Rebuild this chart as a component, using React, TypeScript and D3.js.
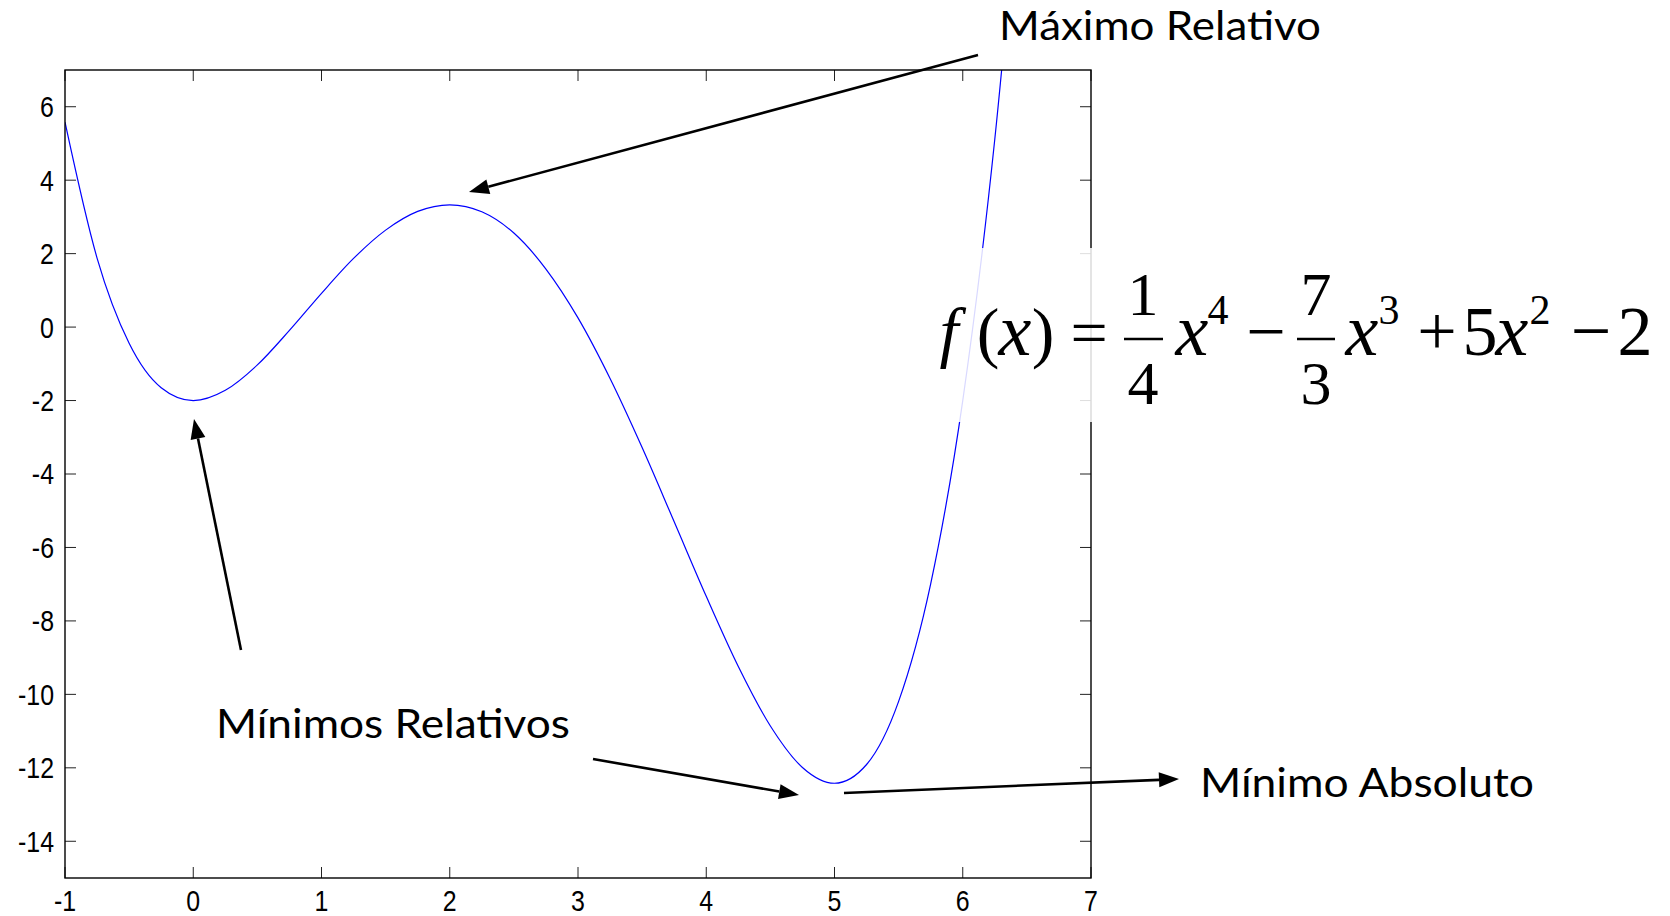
import React from "react";
import * as d3 from "d3";

// Sampled values of f(x) = 1/4 x^4 - 7/3 x^3 + 5x^2 - 2
const sampleX = [
  -1, -0.75, -0.5, -0.25, 0, 0.25, 0.5, 0.75, 1, 1.25, 1.5, 1.75, 2, 2.25, 2.5,
  2.75, 3, 3.25, 3.5, 3.75, 4, 4.25, 4.5, 4.75, 5, 5.25, 5.5, 5.75, 6, 6.25, 6.5,
];
const sampleY = [
  5.58, 1.88, -0.44, -1.65, -2.0, -1.72, -1.03, -0.09, 0.92, 1.87, 2.64, 3.15,
  3.33, 3.14, 2.56, 1.58, 0.25, -1.4, -3.28, -5.3, -7.33, -9.24, -10.86, -11.99,
  -12.42, -11.91, -10.19, -6.99, -2.0, 5.12, 14.72,
];

const xTicks = [-1, 0, 1, 2, 3, 4, 5, 6, 7];
const yTicks = [-14, -12, -10, -8, -6, -4, -2, 0, 2, 4, 6];
const xDomain: [number, number] = [-1, 7];
const yDomain: [number, number] = [-15, 7];

const W = 1670;
const H = 916;
const plot = { left: 65, right: 1091, top: 70, bottom: 878 };

const TICK = 11;
const tickFont = "'Liberation Sans', Arial, Helvetica, sans-serif";
const noteFont = "Lato, 'Open Sans', sans-serif";
const mathFont = "'Liberation Serif', 'Times New Roman', serif";

function Arrow({ x1, y1, x2, y2 }: { x1: number; y1: number; x2: number; y2: number }) {
  const ang = Math.atan2(y2 - y1, x2 - x1);
  const len = 20;
  const half = 7.5;
  const bx = x2 - len * Math.cos(ang);
  const by = y2 - len * Math.sin(ang);
  const px = -Math.sin(ang) * half;
  const py = Math.cos(ang) * half;
  return (
    <g>
      <line x1={x1} y1={y1} x2={bx} y2={by} stroke="#000" strokeWidth={2.6} />
      <polygon points={`${x2},${y2} ${bx + px},${by + py} ${bx - px},${by - py}`} fill="#000" />
    </g>
  );
}

// Tick label: slightly condensed sans, anchored at (tx, ty)
function TickLabel({ tx, ty, anchor, text, dy }: { tx: number; ty: number; anchor: string; text: string; dy?: string }) {
  return (
    <text
      transform={`translate(${tx},${ty}) scale(0.86,1)`}
      dy={dy}
      fontSize={29}
      textAnchor={anchor}
      fontFamily={tickFont}
    >
      {text}
    </text>
  );
}

export default function App() {
  const x = d3.scaleLinear().domain(xDomain).range([plot.left, plot.right]);
  const y = d3.scaleLinear().domain(yDomain).range([plot.bottom, plot.top]);

  const pts: [number, number][] = sampleX.map((v, i) => [v, sampleY[i]]);
  const line = d3
    .line<[number, number]>()
    .x((d) => x(d[0]))
    .y((d) => y(d[1]))
    .curve(d3.curveMonotoneX);

  const mainBase = 355;
  const barY = 339;
  const numBase = 315;
  const denBase = 404;
  const supBase = 324;

  const glyph = (cx: number, t: string, base: number, size: number) => (
    <text x={cx} y={base} fontSize={size} textAnchor="middle" fontFamily={mathFont}>
      {t}
    </text>
  );
  const varX = (cx: number) => (
    <text x={cx} y={mainBase} fontSize={74} fontStyle="italic" textAnchor="middle" fontFamily={mathFont}>
      x
    </text>
  );
  const sup = (cx: number, t: string) => glyph(cx, t, supBase, 42);

  return (
    <svg width={W} height={H} style={{ position: "absolute", left: 0, top: 0, background: "#fff" }}>
      <defs>
        <clipPath id="plotClip">
          <rect x={plot.left} y={plot.top} width={plot.right - plot.left} height={plot.bottom - plot.top} />
        </clipPath>
      </defs>
      <rect x={0} y={0} width={W} height={H} fill="#fff" />

      {/* curve */}
      <path d={line(pts) || ""} fill="none" stroke="#0000ff" strokeWidth={1.2} clipPath="url(#plotClip)" />

      {/* ticks on all four sides, pointing inward */}
      {xTicks.map((t) => (
        <g key={"xt" + t}>
          <line x1={x(t)} x2={x(t)} y1={plot.bottom} y2={plot.bottom - TICK} stroke="#222" strokeWidth={1} />
          <line x1={x(t)} x2={x(t)} y1={plot.top} y2={plot.top + TICK} stroke="#222" strokeWidth={1} />
          <TickLabel tx={x(t)} ty={911} anchor="middle" text={String(t)} />
        </g>
      ))}
      {yTicks.map((t) => (
        <g key={"yt" + t}>
          <line x1={plot.left} x2={plot.left + TICK} y1={y(t)} y2={y(t)} stroke="#222" strokeWidth={1} />
          <line x1={plot.right} x2={plot.right - TICK} y1={y(t)} y2={y(t)} stroke="#222" strokeWidth={1} />
          <TickLabel tx={54} ty={y(t)} anchor="end" text={String(t)} dy="0.36em" />
        </g>
      ))}

      {/* axes box */}
      <rect
        x={plot.left}
        y={plot.top}
        width={plot.right - plot.left}
        height={plot.bottom - plot.top}
        fill="none"
        stroke="#000"
        strokeWidth={1.4}
      />

      {/* formula with a translucent backdrop */}
      <rect x={915} y={248} width={755} height={174} fill="#fff" fillOpacity={0.85} />
      <g fill="#000">
        <text x={949} y={mainBase} fontSize={68} fontStyle="italic" textAnchor="middle" fontFamily={mathFont}>
          f
        </text>
        {glyph(988, "(", mainBase, 68)}
        {varX(1015)}
        {glyph(1043, ")", mainBase, 68)}
        {glyph(1089, "=", mainBase, 66)}
        <line x1={1124} x2={1163} y1={barY} y2={barY} stroke="#000" strokeWidth={2.6} />
        {glyph(1143, "1", numBase, 62)}
        {glyph(1143, "4", denBase, 62)}
        {varX(1192)}
        {sup(1218, "4")}
        {glyph(1266, "\u2212", mainBase, 70)}
        <line x1={1297} x2={1335} y1={barY} y2={barY} stroke="#000" strokeWidth={2.6} />
        {glyph(1316, "7", numBase, 62)}
        {glyph(1316, "3", denBase, 62)}
        {varX(1362)}
        {sup(1389, "3")}
        {glyph(1437, "+", mainBase, 70)}
        {glyph(1480, "5", mainBase, 70)}
        {varX(1512)}
        {sup(1540, "2")}
        {glyph(1591, "\u2212", mainBase, 72)}
        {glyph(1635, "2", mainBase, 70)}
      </g>

      {/* annotations */}
      <text x={999} y={40} fontSize={41} fontFamily={noteFont} textLength={322} lengthAdjust="spacingAndGlyphs">
        Máximo Relativo
      </text>
      <Arrow x1={978} y1={55} x2={469} y2={192} />

      <text x={216} y={738} fontSize={41} fontFamily={noteFont} textLength={354} lengthAdjust="spacingAndGlyphs">
        Mínimos Relativos
      </text>
      <Arrow x1={241} y1={650} x2={194} y2={419} />
      <Arrow x1={593} y1={759} x2={799} y2={795} />

      <text x={1200} y={797} fontSize={41} fontFamily={noteFont} textLength={334} lengthAdjust="spacingAndGlyphs">
        Mínimo Absoluto
      </text>
      <Arrow x1={844} y1={793} x2={1179} y2={779} />
    </svg>
  );
}
